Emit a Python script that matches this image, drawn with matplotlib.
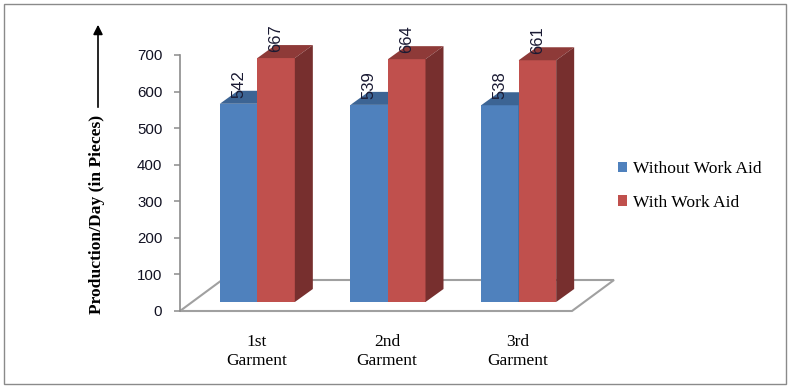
import matplotlib
matplotlib.use('Agg')
import matplotlib.pyplot as plt
import matplotlib.transforms as mtransforms
from matplotlib.patches import Polygon, Rectangle, Patch
import numpy as np

# ---- data ----
categories = ['1st\nGarment', '2nd\nGarment', '3rd\nGarment']
without_aid = [542, 539, 538]
with_aid = [667, 664, 661]
series_names = ['Without Work Aid', 'With Work Aid']
y_ticks = [0, 100, 200, 300, 400, 500, 600, 700]
y_title = 'Production/Day (in Pieces)'

# ---- styles ----
front_cols = ['#4F81BD', '#C0504D']
top_cols = ['#3C6494', '#8E3A38']
side_cols = ['#2F4E73', '#772F2E']
grid_gray = '#A0A0A0'
SERIF = 'Liberation Serif'
SANS = 'Liberation Sans'

W, H = 789, 388
DPI = 100
fig = plt.figure(figsize=(W / DPI, H / DPI), dpi=DPI)
fig.patch.set_facecolor('white')

ax = fig.add_axes([180 / W, (H - 311) / H, (572 - 180) / W, (311 - 55) / H])
ax.set_xlim(-0.5, 2.5)
ax.set_ylim(0, 700)
ax.patch.set_visible(False)
for s in ['top', 'right', 'bottom']:
    ax.spines[s].set_visible(False)
ax.spines['left'].set_color('#8C8C8C')
ax.spines['left'].set_linewidth(1.2)
ax.set_xticks([])
ax.set_yticks(y_ticks)
ax.tick_params(axis='y', length=4.3, width=1.1, color='#8C8C8C', pad=8.5,
               labelsize=10.8, labelcolor='#111122')
for lbl in ax.get_yticklabels():
    lbl.set_fontfamily(SANS)

FRONT = np.array([12.0, 9.0])
DEPTH = np.array([18.0, 13.0])
FLOOR = np.array([42.0, 31.0])
ident = mtransforms.IdentityTransform()


def disp(x, y):
    return np.array(ax.transData.transform((x, y)))


# floor
a = disp(-0.5, 0)
b = disp(2.5, 0)
floor = Polygon([a, b, b + FLOOR, a + FLOOR], closed=True, fill=False,
                edgecolor=grid_gray, linewidth=1.5, transform=ident,
                clip_on=False, zorder=1)
ax.add_patch(floor)

x = np.arange(len(categories))
bar_w = 0.287
offsets = [-bar_w / 2, bar_w / 2]
front_tr = ax.transData + mtransforms.Affine2D().translate(*FRONT)

for si, vals in enumerate([without_aid, with_aid]):
    z = 2 + si
    bars = ax.bar(x + offsets[si], vals, bar_w, color=front_cols[si],
                  linewidth=0, zorder=z)
    for bar in bars:
        bar.set_transform(front_tr)
        bar.set_clip_on(False)
    for xi, v in zip(x, vals):
        xl = xi + offsets[si] - bar_w / 2
        xr = xi + offsets[si] + bar_w / 2
        p1 = disp(xl, v) + FRONT
        p2 = disp(xr, v) + FRONT
        top = Polygon([p1, p2, p2 + DEPTH, p1 + DEPTH], closed=True,
                      facecolor=top_cols[si], edgecolor='none',
                      transform=ident, clip_on=False, zorder=z)
        ax.add_patch(top)
        p0 = disp(xr, 0) + FRONT
        side = Polygon([p2, p2 + DEPTH, p0 + DEPTH, p0], closed=True,
                       facecolor=side_cols[si], edgecolor='none',
                       transform=ident, clip_on=False, zorder=z)
        ax.add_patch(side)
        ax.text(xi + offsets[si], v, str(v), rotation=90, ha='center',
                va='bottom', fontsize=12, family=SANS, color='#1a1a33',
                transform=ax.transData + mtransforms.Affine2D().translate(FRONT[0], FRONT[1] + 6),
                clip_on=False, zorder=5)

# category labels
for xi, cat in zip(x, categories):
    ax.text(xi, 0, cat, ha='center', va='top', multialignment='center',
            fontsize=12.5, family=SERIF, linespacing=1.22,
            transform=ax.transData + mtransforms.Affine2D().translate(11, -23),
            clip_on=False)

# legend
handles = [Patch(facecolor=c, edgecolor='none') for c in front_cols]
ax.legend(handles, series_names, loc='center left',
          bbox_to_anchor=(618 / W, (H - 186) / H), bbox_transform=fig.transFigure,
          frameon=False, prop={'family': SERIF, 'size': 12.6},
          handlelength=0.52, handleheight=0.52, handletextpad=0.32,
          labelspacing=1.0, borderpad=0, borderaxespad=0)

# y title and arrow
fig.text(97 / W, (H - 214.5) / H, y_title, rotation=90, ha='center', va='center',
         fontsize=12.6, fontweight='bold', family=SERIF)
fig.add_artist(matplotlib.patches.FancyArrowPatch(
    (98 / W, (H - 110) / H), (98 / W, (H - 22) / H), transform=fig.transFigure,
    arrowstyle='-|>', mutation_scale=14, color='black', linewidth=1.2))

# outer border
fig.add_artist(Rectangle((3.5 / W, 4.5 / H), 782 / W, 379.5 / H,
                         transform=fig.transFigure, fill=False,
                         edgecolor='#8A8A8A', linewidth=1.0))

fig.savefig('out.png', dpi=DPI, facecolor='white')
